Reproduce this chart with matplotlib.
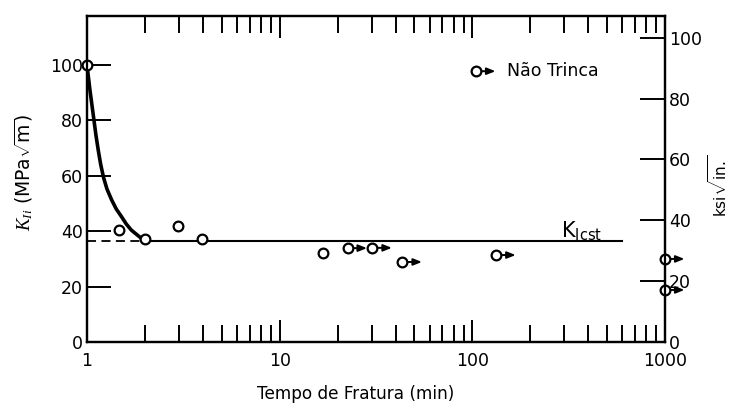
import matplotlib
matplotlib.use("Agg")
import matplotlib.pyplot as plt
from matplotlib.ticker import FixedLocator, NullFormatter, FixedFormatter

plt.rcParams['font.family'] = ['DejaVu Sans']
plt.rcParams['mathtext.fontset'] = 'custom'
plt.rcParams['mathtext.rm'] = 'DejaVu Sans'
plt.rcParams['mathtext.it'] = 'Liberation Serif:italic'

# Data (time in min, K in MPa*sqrt(m))
t_crack = [1.0, 1.47, 2.0, 2.95, 3.94, 16.7]
K_crack = [100, 40.4, 37.2, 41.9, 37.2, 32.1]
t_nocrack = [22.5, 30.3, 43.4, 133, 1000, 1000]
K_nocrack = [33.9, 34.0, 28.9, 31.4, 30.0, 18.8]
curve_t = [1.0, 1.036, 1.078, 1.113, 1.144, 1.179, 1.219, 1.269, 1.343, 1.42, 1.513, 1.60, 1.70, 1.82, 1.92, 2.0]
curve_K = [100, 91.0, 82.0, 74.7, 69.3, 64.0, 59.4, 55.3, 51.3, 48.0, 45.2, 42.6, 40.4, 38.7, 37.4, 36.8]
K_Icst = 36.6
t_Icst_start = 2.0
t_Icst_end = 600
x_ticklabels = ['1', '10', '100', '1000']
y_ticks = [0, 20, 40, 60, 80, 100]
MPA_PER_KSI = 1.0988

fig = plt.figure(figsize=(7.34, 4.03), dpi=100)
ax = fig.add_axes([0.1185, 0.1514, 0.7875, 0.8086])
ax.set_xscale('log')
ax.set_xlim(1, 1000)
ax.set_ylim(0, 117.7)

lw_sp = 1.6
for s in ax.spines.values():
    s.set_linewidth(lw_sp)

# K_Icst line
ax.plot([t_Icst_start, t_Icst_end], [K_Icst, K_Icst], color='black', lw=1.5)
ax.plot([1, t_Icst_start], [K_Icst, K_Icst], color='black', lw=1.3, ls=(0, (5, 3)))
# curve
ax.plot(curve_t, curve_K, color='black', lw=2.6, solid_capstyle='round', solid_joinstyle='round')

mk = dict(marker='o', ms=7, mfc='white', mec='black', mew=1.6, ls='none', clip_on=False, zorder=5)
ax.plot(t_crack, K_crack, **mk)
ax.plot(t_nocrack, K_nocrack, **mk)
arrow_kw = dict(arrowstyle='<|-,head_length=0.5,head_width=0.2', color='black',
                lw=1.4, shrinkA=0, shrinkB=4)
for t, k in zip(t_nocrack, K_nocrack):
    ax.annotate('', xy=(t, k), xytext=(14, 0), textcoords='offset points',
                arrowprops=arrow_kw, annotation_clip=False, zorder=4)

# legend
ax.plot([0.673], [0.831], transform=ax.transAxes, **mk)
ax.annotate('', xy=(0.673, 0.831), xycoords='axes fraction', xytext=(14, 0),
            textcoords='offset points', arrowprops=arrow_kw)
ax.text(0.727, 0.831, 'Não Trinca', transform=ax.transAxes, fontsize=12.5, va='center', ha='left')

ax.text(0.82, 0.306, r'$\mathrm{K}_{\mathrm{Icst}}$', transform=ax.transAxes, fontsize=15,
        ha='left', va='bottom')

# x ticks
ax.xaxis.set_major_locator(FixedLocator([1, 10, 100, 1000]))
ax.xaxis.set_major_formatter(FixedFormatter(x_ticklabels))
minors = [m * d for d in (1, 10, 100) for m in range(2, 10)]
ax.xaxis.set_minor_locator(FixedLocator(minors))
ax.xaxis.set_minor_formatter(NullFormatter())
ax.tick_params(axis='x', which='major', direction='in', length=16, width=1.4, top=True,
               labelsize=12.5, pad=7)
ax.tick_params(axis='x', which='minor', direction='in', length=12, width=1.4, top=True)

# left y
ax.yaxis.set_major_locator(FixedLocator(y_ticks))
ax.tick_params(axis='y', which='major', direction='in', length=17, width=1.4, labelsize=12.5, pad=3)
ax.set_ylabel(r'$K_{Ii}$ (MPa$\sqrt{\mathrm{m}}$)', fontsize=13.5)
ax.yaxis.set_label_coords(-0.09, 0.52)
ax.set_xlabel('Tempo de Fratura (min)', fontsize=12.2)
ax.xaxis.set_label_coords(0.465, -0.133)

# right y (ksi sqrt in)
ax2 = ax.twinx()
ax2.set_ylim(0, 117.7 / MPA_PER_KSI)
ax2.yaxis.set_major_locator(FixedLocator(y_ticks))
ax2.tick_params(axis='y', direction='in', length=18, width=1.4, labelsize=12.5, pad=3)
for s in ax2.spines.values():
    s.set_linewidth(lw_sp)
ax2.set_ylabel(r'ksi$\sqrt{\mathrm{in.}}$', fontsize=11)
ax2.yaxis.set_label_coords(1.072, 0.48)

fig.savefig('out.png', dpi=100)
